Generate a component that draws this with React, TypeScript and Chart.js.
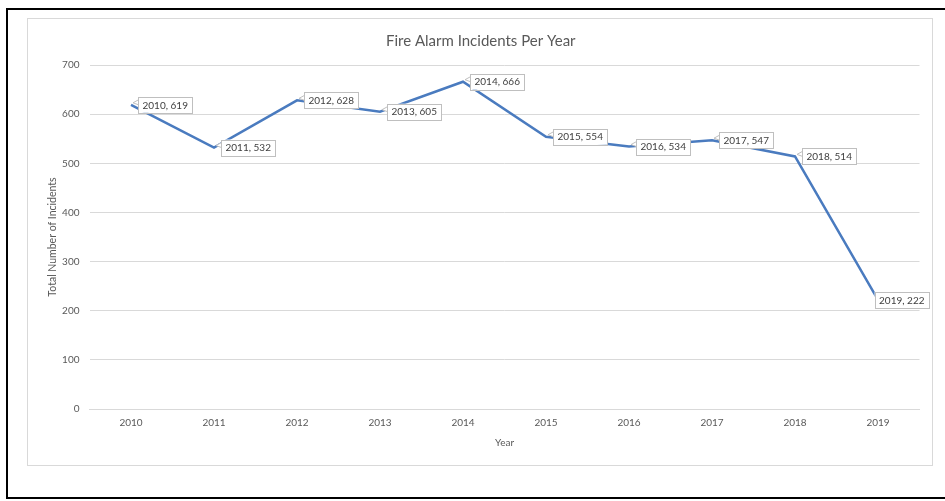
import React, { useEffect, useRef } from "react";
import { Chart, registerables } from "chart.js";

Chart.register(...registerables);

const years = ["2010", "2011", "2012", "2013", "2014", "2015", "2016", "2017", "2018", "2019"];
const incidents = [619, 532, 628, 605, 666, 554, 534, 547, 514, 222];
const yTicks = [0, 100, 200, 300, 400, 500, 600, 700];

const FONT = "Lato, 'Open Sans', 'Liberation Sans', sans-serif";

const labelPlugin = {
  id: "calloutLabels",
  afterDatasetsDraw(chart: any) {
    const ctx = chart.ctx;
    const meta = chart.getDatasetMeta(0);
    ctx.save();
    ctx.font = `10px ${FONT}`;
    meta.data.forEach((pt: any, i: number) => {
      const text = `${years[i]}, ${incidents[i]}`;
      const tw = ctx.measureText(text).width;
      const bh = 16;
      const bw = tw + 9;
      const bx = Math.min(pt.x + 7, chart.width - 3 - bw);
      const by = pt.y - bh / 2;
      // pointer
      if (bx > pt.x + 3) {
        ctx.beginPath();
        ctx.moveTo(bx + 0.5, by + 3);
        ctx.lineTo(pt.x + 2, pt.y - 2);
        ctx.lineTo(bx + 0.5, by + 8);
        ctx.closePath();
        ctx.fillStyle = "#ffffff";
        ctx.fill();
        ctx.strokeStyle = "#bfbfbf";
        ctx.lineWidth = 1;
        ctx.stroke();
      }
      ctx.strokeStyle = "#bfbfbf";
      ctx.lineWidth = 1;
      ctx.fillStyle = "#ffffff";
      ctx.fillRect(bx, by, bw, bh);
      ctx.strokeRect(Math.round(bx) + 0.5, Math.round(by) + 0.5, Math.round(bw), bh);
      ctx.fillStyle = "#404040";
      ctx.textBaseline = "middle";
      ctx.textAlign = "left";
      ctx.fillText(text, bx + 4.5, pt.y + 0.5);
    });
    ctx.restore();
  },
};

function LineChart() {
  const ref = useRef<HTMLCanvasElement | null>(null);
  useEffect(() => {
    if (!ref.current) return;
    const chart = new Chart(ref.current, {
      type: "line",
      data: {
        labels: years,
        datasets: [
          {
            label: "Incidents",
            data: incidents,
            borderColor: "#4a7bbf",
            borderWidth: 2.5,
            pointRadius: 0,
            tension: 0,
            fill: false,
          },
        ],
      },
      options: {
        animation: false,
        responsive: false,
        maintainAspectRatio: false,
        layout: { padding: { left: 14, right: 12.5, top: 0, bottom: 0 } },
        plugins: {
          legend: { display: false },
          tooltip: { enabled: false },
          title: {
            display: true,
            text: "Fire Alarm Incidents Per Year",
            color: "#595959",
            font: { family: FONT, size: 15, weight: "normal" },
            padding: { top: 13, bottom: 15 },
          },
        },
        scales: {
          x: {
            type: "category",
            offset: true,
            grid: { display: false, drawTicks: false },
            border: { display: true, color: "#d9d9d9" },
            ticks: {
              color: "#595959",
              font: { family: FONT, size: 10 },
              padding: 8,
              maxRotation: 0,
            },
            title: {
              display: true,
              text: "Year",
              color: "#595959",
              font: { family: FONT, size: 10 },
              padding: { top: 4, bottom: 16 },
            },
            afterFit: (s: any) => {
              s.height = 56;
            },
          },
          y: {
            min: 0,
            max: 700,
            afterBuildTicks: (s: any) => {
              s.ticks = yTicks.map((v) => ({ value: v }));
            },
            grid: { color: "#d9d9d9", drawTicks: false },
            border: { display: false },
            ticks: {
              color: "#595959",
              font: { family: FONT, size: 10 },
              padding: 10,
            },
            title: {
              display: true,
              text: "Total Number of Incidents",
              color: "#595959",
              font: { family: FONT, size: 10.5 },
              padding: { top: 4, bottom: 4 },
            },
            afterFit: (s: any) => {
              s.width = 47.5;
            },
          },
        },
      },
      plugins: [labelPlugin],
    });
    return () => chart.destroy();
  }, []);
  return <canvas ref={ref} width={904} height={446} style={{ display: "block", width: 904, height: 446 }} />;
}

export default function App() {
  return (
    <div style={{ position: "fixed", left: 0, top: 0, width: 945, height: 501, background: "#ffffff", overflow: "hidden" }}>
      <div
        style={{
          position: "absolute",
          left: 6,
          top: 8,
          width: 945,
          height: 491,
          border: "2px solid #000000",
          boxSizing: "border-box",
        }}
      />
      <div
        style={{
          position: "absolute",
          left: 27,
          top: 18,
          width: 906,
          height: 448,
          border: "1px solid #d9d9d9",
          boxSizing: "border-box",
          background: "#ffffff",
        }}
      >
        <LineChart />
      </div>
    </div>
  );
}
